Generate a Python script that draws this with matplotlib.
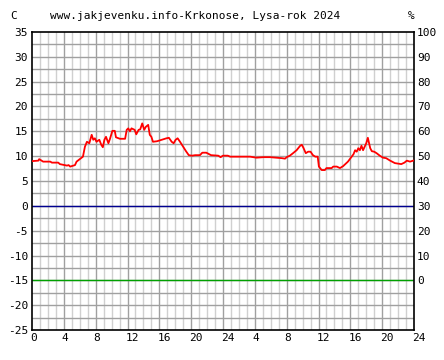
"""Krkonose, Lysa hora: temperature over two days (2024)."""
import matplotlib
matplotlib.use("Agg")
import matplotlib.pyplot as plt
import numpy as np

# hours since start of the two-day window, temperature in C
hours = [0.0, 0.8, 0.9, 1.4, 2.3, 2.5, 3.3, 3.5, 4.4, 4.6, 4.8, 5.4, 5.6, 6.0,
         6.4, 6.65, 6.9, 7.2, 7.5, 7.7, 7.9, 8.1, 8.46, 8.7, 8.9, 9.1, 9.3,
         9.6, 9.8, 10.1, 10.4, 10.55, 11.05, 11.7, 11.9, 12.1, 12.3, 12.5,
         12.9, 13.1, 13.4, 13.6, 13.85, 14.1, 14.3, 14.6, 14.8, 15.0, 15.2,
         15.7, 16.3, 16.9, 17.2, 17.55, 17.8, 18.05, 18.3, 18.6, 19.0, 19.35,
         19.7, 20.1, 20.5, 21.1, 21.4, 21.9, 22.5, 23.4, 23.7, 24.0, 24.6,
         24.9, 26.1, 27.4, 28.2, 29.1, 29.9, 30.7, 31.4, 31.8, 32.0, 32.4,
         32.8, 33.25, 33.7, 33.9, 34.1, 34.4, 34.7, 35.0, 35.3, 35.6, 35.9,
         36.05, 36.4, 36.8, 37.0, 37.65, 37.85, 38.3, 38.7, 39.1, 39.7, 40.4,
         40.6, 40.8, 41.0, 41.2, 41.4, 41.6, 41.8, 42.0, 42.2, 42.35, 42.5,
         42.7, 43.0, 43.3, 43.7, 44.1, 44.5, 45.0, 45.6, 46.4, 46.8, 47.1,
         47.5, 47.9]
temp = [9.0, 9.1, 9.4, 8.9, 8.9, 8.7, 8.7, 8.4, 8.1, 8.2, 7.9, 8.2, 8.9, 9.4,
        9.9, 11.9, 12.9, 12.6, 14.3, 13.3, 13.6, 12.9, 13.3, 12.3, 11.8, 13.3,
        13.9, 12.6, 13.5, 15.1, 15.1, 13.8, 13.5, 13.5, 15.3, 15.6, 15.0, 15.6,
        15.3, 14.4, 15.3, 15.4, 16.6, 15.3, 15.9, 16.3, 14.3, 13.9, 12.9, 13.0,
        13.3, 13.6, 13.7, 12.9, 12.6, 13.3, 13.6, 12.9, 11.9, 11.0, 10.2, 10.1,
        10.2, 10.2, 10.7, 10.7, 10.2, 10.1, 9.8, 10.1, 10.1, 9.9, 9.9, 9.9,
        9.7, 9.8, 9.8, 9.7, 9.6, 9.5, 9.8, 10.1, 10.6, 11.2, 12.1, 12.3, 11.7,
        10.6, 10.9, 10.9, 10.2, 9.9, 9.9, 7.9, 7.2, 7.2, 7.6, 7.6, 7.9, 7.9,
        7.6, 8.0, 8.9, 10.4, 11.2, 10.9, 11.6, 11.2, 12.1, 11.2, 11.9, 12.6,
        13.7, 12.6, 11.6, 11.0, 10.9, 10.6, 10.1, 9.7, 9.6, 9.1, 8.6, 8.4,
        8.7, 9.1, 8.9, 9.1]

x_ticks = np.arange(0, 49, 4)
x_labels = ["0", "4", "8", "12", "16", "20", "24", "4", "8", "12", "16", "20", "24"]
left_ticks = np.arange(-25, 36, 5)
right_ticks = np.arange(0, 101, 10)

MONO = "DejaVu Sans Mono"
FS = 8


def main():
    fig = plt.figure(figsize=(4.44, 3.6), dpi=100)
    ax = fig.add_axes([32 / 444, 1 - 330 / 360, 382 / 444, 298 / 360])
    ax.set_xlim(0, 48)
    ax.set_ylim(-25, 35)

    # grid: light hourly, darker every 4 h, horizontal every 2.5 C
    for h in range(1, 48):
        c = "#a0a0a0" if h % 4 == 0 else "#d0d0d0"
        ax.axvline(h, color=c, lw=1.0, zorder=1)
    for v in np.arange(-22.5, 35, 2.5):
        ax.axhline(v, color="#a0a0a0", lw=1.0, zorder=1)
    ax.axhline(0, color="#000090", lw=1.0, zorder=2)
    ax.axhline(-15, color="#00a000", lw=1.0, zorder=2)

    ax.plot(hours, temp, color="#ff0000", lw=1.3, zorder=3)

    for s in ax.spines.values():
        s.set_color("black")
        s.set_linewidth(1.2)
    ax.set_xticks(x_ticks)
    ax.set_xticklabels(x_labels, fontfamily=MONO, fontsize=FS)
    ax.set_yticks(left_ticks)
    ax.set_yticklabels([str(v) for v in left_ticks], fontfamily=MONO, fontsize=FS)
    ax.tick_params(length=0, pad=3)
    for lbl in ax.get_xticklabels():
        lbl.set_horizontalalignment("left")
        lbl.set_x(lbl.get_position()[0])
    ax.tick_params(axis="x", pad=2)
    # shift x labels a little so they start near the tick like the original
    import matplotlib.transforms as mtrans
    off = mtrans.ScaledTranslation(-2 / 100, 0, fig.dpi_scale_trans)
    for lbl in ax.get_xticklabels():
        lbl.set_transform(lbl.get_transform() + off)

    ax2 = ax.twinx()
    ax2.set_ylim((-25 + 15) * 2, (35 + 15) * 2)
    ax2.set_yticks(right_ticks)
    ax2.set_yticklabels([str(v) for v in right_ticks], fontfamily=MONO, fontsize=FS)
    ax2.tick_params(length=0, pad=2)
    for s in ax2.spines.values():
        s.set_visible(False)

    fig.text(10 / 444, 1 - 16 / 360, "C", fontfamily=MONO, fontsize=FS, va="center")
    fig.text(50 / 444, 1 - 16 / 360, "www.jakjevenku.info-Krkonose, Lysa-rok 2024",
             fontfamily=MONO, fontsize=FS, va="center")
    fig.text(408 / 444, 1 - 16 / 360, "%", fontfamily=MONO, fontsize=FS, va="center")

    fig.savefig("out.png", dpi=100, facecolor="white")


if __name__ == "__main__":
    main()
